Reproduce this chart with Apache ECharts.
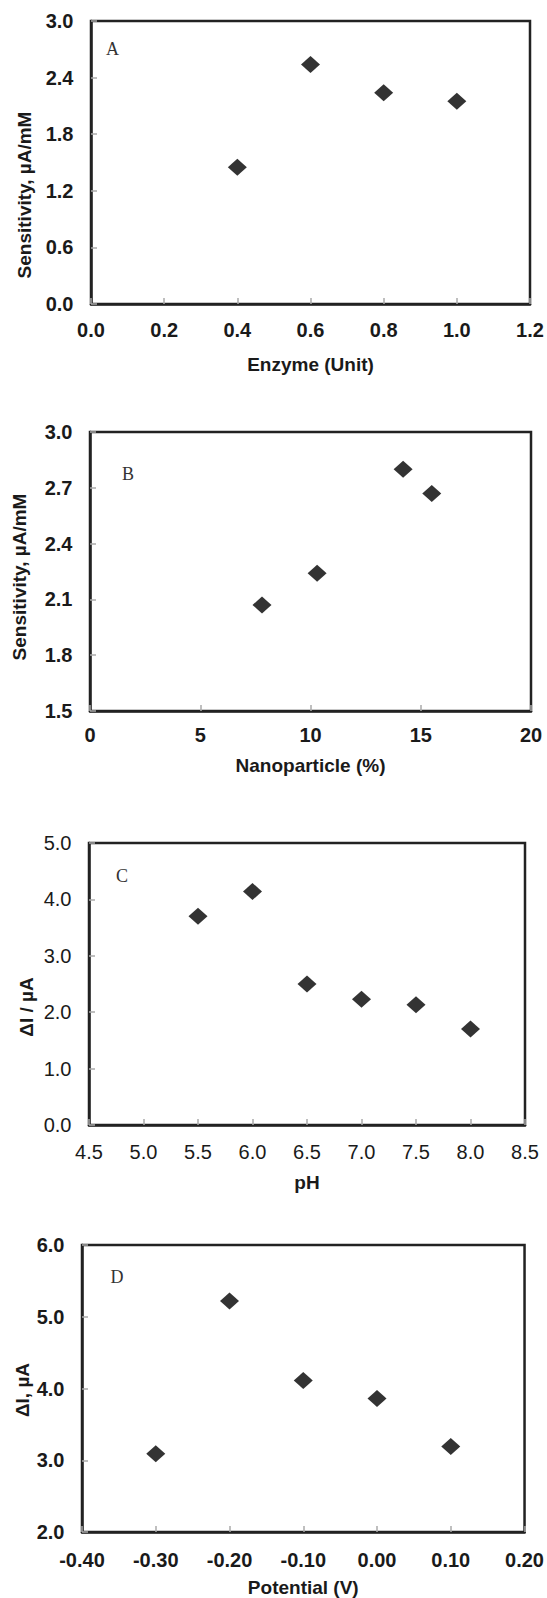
<!DOCTYPE html>
<html>
<head>
<meta charset="utf-8">
<title>Biosensor optimisation</title>
<script src="https://cdn.jsdelivr.net/npm/echarts@6/dist/echarts.min.js"></script>
<style>
  html, body { margin: 0; padding: 0; background: #fff; }
  #chart { width: 547px; height: 1598px; }
</style>
</head>
<body>
<div id="chart"></div>
<script>
// panel A - enzyme loading
const enzymeUnits = [0.4, 0.6, 0.8, 1.0]
const enzymeSens = [1.45, 2.54, 2.24, 2.15]
// panel B - nanoparticle content
const nanoPct = [7.8, 10.3, 14.2, 15.5]
const nanoSens = [2.07, 2.24, 2.80, 2.67]
// panel C - pH
const phValues = [5.5, 6.0, 6.5, 7.0, 7.5, 8.0]
const phCurrent = [3.70, 4.14, 2.50, 2.23, 2.13, 1.70]
// panel D - applied potential
const potentialV = [-0.3, -0.2, -0.1, 0.0, 0.1]
const potentialCurrent = [3.09, 5.22, 4.11, 3.86, 3.19]

// axis ranges [min, max, interval, decimals]
const xRanges = [[0, 1.2, 0.2, 1], [0, 20, 5, 0], [4.5, 8.5, 0.5, 1], [-0.4, 0.2, 0.1, 2]]
const yRanges = [[0, 3.0, 0.6, 1], [1.5, 3.0, 0.3, 1], [0, 5.0, 1, 1], [2.0, 6.0, 1, 1]]

const xNames = ['Enzyme (Unit)', 'Nanoparticle (%)', 'pH', 'Potential (V)']
const yNames = ['Sensitivity, µA/mM', 'Sensitivity, µA/mM', 'ΔI / µA', 'ΔI, µA']
const panelLetters = ['A', 'B', 'C', 'D']

const SANS = '"Liberation Sans", Arial, sans-serif'
const SERIF = '"Liberation Serif", "Times New Roman", serif'

// layout of the four frames (pixels)
const grids = [
  { left: 91, top: 21, width: 439, height: 283 },
  { left: 90, top: 432, width: 441, height: 279 },
  { left: 89, top: 843, width: 436, height: 282 },
  { left: 82, top: 1245, width: 444, height: 289 }
]
const tickBold = [true, true, false, true]
const xLabelMargin = [16, 14, 17, 18]
const xNameGap = [51, 45, 48, 46]
const yNamePos = [[24, 195], [19, 577], [26, 1007], [22, 1390]]
const letterPos = [[112.5, 49], [128, 474], [122, 876], [117, 1277]]

const zip = (xs, ys) => xs.map((x, i) => [x, ys[i]])
const seriesData = [
  zip(enzymeUnits, enzymeSens),
  zip(nanoPct, nanoSens),
  zip(phValues, phCurrent),
  zip(potentialV, potentialCurrent)
]

const axisBase = (range, i) => ({
  gridIndex: i,
  type: 'value',
  min: range[0],
  max: range[1],
  interval: range[2],
  axisLine: { show: true, onZero: false, lineStyle: { color: '#222', width: 2.5 } },
  axisTick: { show: true, inside: true, length: 6, lineStyle: { color: '#aaa', width: 1.5 } },
  splitLine: { show: false },
  axisLabel: {
    color: '#1a1a1a',
    fontFamily: SANS,
    fontSize: 20,
    fontWeight: tickBold[i] ? 'bold' : 'normal',
    formatter: v => Number(v).toFixed(range[3]).replace('-0.00', '0.00')
  }
})

const chart = echarts.init(document.getElementById('chart'), null, { renderer: 'svg' })

const graphics = []
yNames.forEach((name, i) => {
  graphics.push({
    type: 'text',
    x: yNamePos[i][0],
    y: yNamePos[i][1],
    rotation: Math.PI / 2,
    style: {
      text: name,
      font: 'bold 19px ' + SANS,
      fill: '#1a1a1a',
      textAlign: 'center',
      textVerticalAlign: 'middle'
    }
  })
})
panelLetters.forEach((letter, i) => {
  graphics.push({
    type: 'text',
    x: letterPos[i][0],
    y: letterPos[i][1],
    style: {
      text: letter,
      font: '18px ' + SERIF,
      fill: '#333',
      textAlign: 'center',
      textVerticalAlign: 'middle'
    }
  })
})

const option = {
  animation: false,
  backgroundColor: '#fff',
  grid: grids.map(g => ({
    ...g,
    show: true,
    borderColor: '#222',
    borderWidth: 2.5,
    backgroundColor: 'transparent'
  })),
  xAxis: xRanges.map((r, i) => {
    const ax = axisBase(r, i)
    ax.position = 'bottom'
    ax.axisLabel.margin = xLabelMargin[i]
    ax.name = xNames[i]
    ax.nameLocation = 'middle'
    ax.nameGap = xNameGap[i]
    ax.nameTextStyle = { color: '#1a1a1a', fontFamily: SANS, fontSize: 19, fontWeight: 'bold' }
    return ax
  }),
  yAxis: yRanges.map((r, i) => {
    const ax = axisBase(r, i)
    ax.position = 'left'
    ax.axisLabel.margin = 17.5
    return ax
  }),
  graphic: graphics,
  series: seriesData.map((data, i) => ({
    type: 'scatter',
    xAxisIndex: i,
    yAxisIndex: i,
    data: data,
    symbol: 'diamond',
    symbolSize: [19, 17],
    itemStyle: { color: '#000' }
  }))
}

chart.setOption(option)
window.addEventListener('resize', chart.resize)
</script>
</body>
</html>
